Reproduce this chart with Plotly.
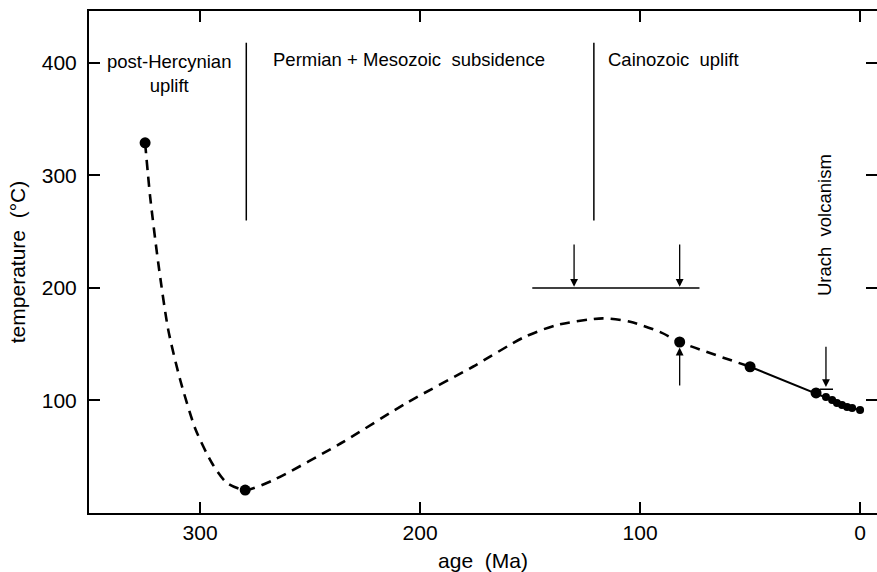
import plotly.graph_objects as go

# --- data ---
curve_age = [325, 322.7, 319, 314.5, 309, 302, 294.5, 288, 279.5, 267, 236, 206, 176, 153, 138, 117, 104.5, 91, 82, 50]
curve_temp = [329, 281, 222, 163, 118, 74, 44, 27, 20.4, 29, 62, 98, 130, 156, 167, 173, 170, 161, 152, 130]

solid_age = [50, 20, 15.5, 12.7, 10.5, 8.2, 5.9, 3.6, 0]
solid_temp = [130, 106.7, 103, 100.4, 97.8, 96, 94.2, 93.3, 91.6]

big_age = [325, 279.5, 82, 50, 20]
big_temp = [329, 20.4, 152, 130, 106.7]

small_age = [15.5, 12.7, 10.5, 8.2, 5.9, 3.6, 0]
small_temp = [103, 100.4, 97.8, 96, 94.2, 93.3, 91.6]

boundary_age = [279, 121]
boundary_temp = [260, 418]

bar_age = [149, 73]
bar_temp = [200, 200]

# arrows: (x, tip_y, tail_y)
arrows = [(130, 201, 240), (82, 201, 240), (82, 147, 112), (15.5, 112, 149)]
urach_bar_age = [18.2, 12.3]
urach_bar_temp = [110, 110]

x_ticks = [300, 200, 100, 0]
y_ticks = [100, 200, 300, 400]

labels = [
    (314, 391, "post-Hercynian<br>uplift", "center", 0),
    (205, 403, "Permian + Mesozoic  subsidence", "center", 0),
    (115.5, 403, "Cainozoic  uplift", "left", 0),
    (15.9, 256, "Urach  volcanism", "center", -90),
]

FONT = "Liberation Sans, Arial, sans-serif"

fig = go.Figure()
fig.add_trace(go.Scatter(x=curve_age, y=curve_temp, mode="lines",
                         line=dict(color="black", width=2.6, dash="10px,7px", shape="spline", smoothing=0.7),
                         hoverinfo="skip"))
fig.add_trace(go.Scatter(x=solid_age, y=solid_temp, mode="lines",
                         line=dict(color="black", width=2), hoverinfo="skip"))
fig.add_trace(go.Scatter(x=big_age, y=big_temp, mode="markers",
                         marker=dict(color="black", size=11)))
fig.add_trace(go.Scatter(x=small_age, y=small_temp, mode="markers",
                         marker=dict(color="black", size=8)))
for a in boundary_age:
    fig.add_trace(go.Scatter(x=[a, a], y=boundary_temp, mode="lines",
                             line=dict(color="black", width=1.5), hoverinfo="skip"))
fig.add_trace(go.Scatter(x=bar_age, y=bar_temp, mode="lines",
                         line=dict(color="black", width=1.5), hoverinfo="skip"))
fig.add_trace(go.Scatter(x=urach_bar_age, y=urach_bar_temp, mode="lines",
                         line=dict(color="black", width=1.5), hoverinfo="skip"))
# invisible trace to carry the right-hand tick axis
fig.add_trace(go.Scatter(x=[0], y=[0], yaxis="y2", mode="markers",
                         marker=dict(opacity=0), hoverinfo="skip"))

for (ax_, tip, tail) in arrows:
    fig.add_annotation(x=ax_, y=tip, ax=ax_, ay=tail, xref="x", yref="y", axref="x", ayref="y",
                       showarrow=True, arrowhead=2, arrowsize=1.2, arrowwidth=1.3,
                       arrowcolor="black", text="")

for (x, y, t, al, ang) in labels:
    fig.add_annotation(x=x, y=y, text=t, showarrow=False, textangle=ang,
                       xanchor=al if ang == 0 else "center",
                       font=dict(family=FONT, size=18.5, color="black"))

fig.update_layout(
    width=877, height=572,
    margin=dict(l=89, r=0, t=11, b=59),
    paper_bgcolor="white", plot_bgcolor="white",
    showlegend=False,
    font=dict(family=FONT, color="black"),
    xaxis=dict(range=[350.5, -7.7], tickvals=x_ticks, ticks="inside", ticklen=11, tickwidth=1.5,
               tickcolor="black", showline=True, linecolor="black", linewidth=2, mirror="ticks",
               showgrid=False, zeroline=False, tickfont=dict(size=21),
               title=dict(text="age  (Ma)", font=dict(size=21), standoff=12)),
    yaxis=dict(range=[0, 446.2], tickvals=y_ticks, ticks="inside", ticklen=11, tickwidth=1.5,
               tickcolor="black", showline=True, linecolor="black", linewidth=2, mirror=False,
               showgrid=False, zeroline=False, tickfont=dict(size=21), ticklabelstandoff=6,
               title=dict(text="temperature  (°C)", font=dict(size=21), standoff=10)),
    yaxis2=dict(range=[0, 446.2], tickvals=y_ticks, ticks="inside", ticklen=11, tickwidth=1.5,
                tickcolor="black", overlaying="y", side="right", showline=False,
                showticklabels=False, showgrid=False, zeroline=False),
)

fig.write_html("out.html")
